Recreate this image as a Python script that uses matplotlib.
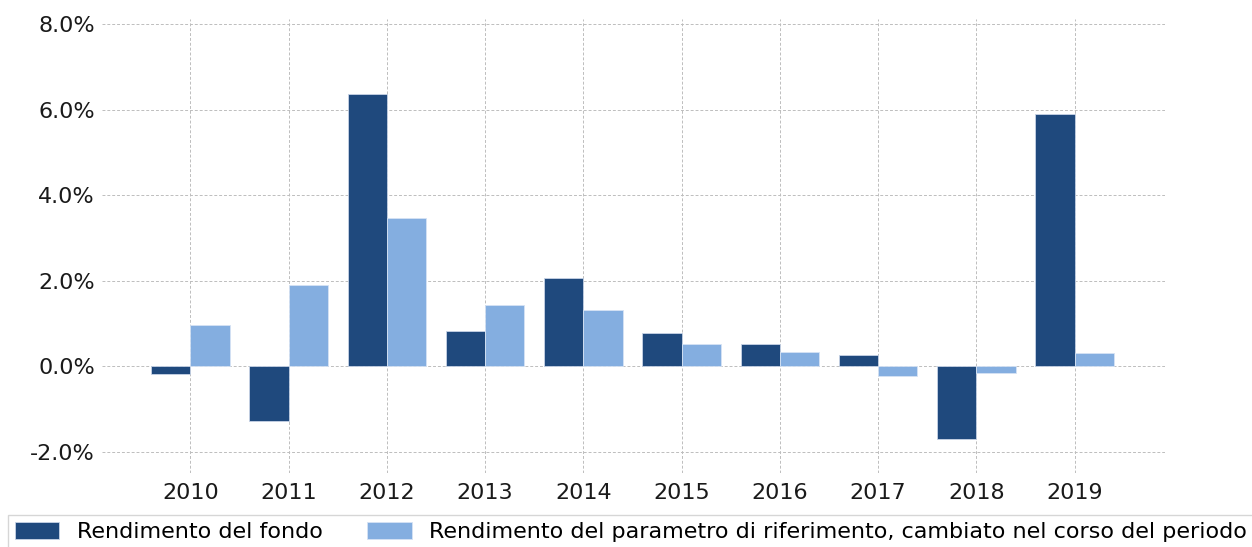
import matplotlib
matplotlib.use("Agg")
from matplotlib import pyplot as plt
from matplotlib.ticker import FuncFormatter
import numpy as np

years = ['2010', '2011', '2012', '2013', '2014', '2015', '2016', '2017', '2018', '2019']
fondo = [-0.19, -1.29, 6.36, 0.82, 2.06, 0.77, 0.51, 0.26, -1.71, 5.89]
parametro = [0.96, 1.90, 3.46, 1.43, 1.31, 0.51, 0.33, -0.23, -0.16, 0.30]

label_fondo = 'Rendimento del fondo'
label_param = 'Rendimento del parametro di riferimento, cambiato nel corso del periodo'

fig = plt.figure(figsize=(12.52, 5.47), dpi=100)
ax = fig.add_axes([102 / 1252, 1 - 473 / 547, (1165 - 102) / 1252, (473 - 19) / 547])

x = np.arange(len(years))
w = 0.4
ax.bar(x - w / 2, fondo, w, color='#1f497d', edgecolor='#c8d4e6', linewidth=0.6,
       label=label_fondo, zorder=3)
ax.bar(x + w / 2, parametro, w, color='#84aee0', edgecolor='#d6e3f4', linewidth=0.6,
       label=label_param, zorder=3)

ax.set_xlim(-0.9, 9.92)
ax.set_ylim(-2.5, 8.12)
ax.set_yticks([-2, 0, 2, 4, 6, 8])
ax.yaxis.set_major_formatter(FuncFormatter(lambda v, p: '%.1f%%' % v))
ax.set_xticks(x)
ax.set_xticklabels(years)
ax.tick_params(axis='both', length=0, labelsize=16, colors='#1a1a1a')
ax.tick_params(axis='x', pad=7)
ax.tick_params(axis='y', pad=5)

for s in ax.spines.values():
    s.set_visible(False)
ax.grid(True, linestyle=(0, (3, 2)), color='#bdbdbd', linewidth=0.7, zorder=0)
ax.set_axisbelow(True)

fig.legend(loc='upper left', bbox_to_anchor=(8 / 1252, 1 - 515 / 547), ncol=2,
           fontsize=16, frameon=True, edgecolor='#cccccc', fancybox=False,
           handlelength=2.0, handleheight=0.8, handletextpad=0.8,
           columnspacing=2.0, borderpad=0.3, borderaxespad=0)

fig.savefig('out.png', dpi=100)
